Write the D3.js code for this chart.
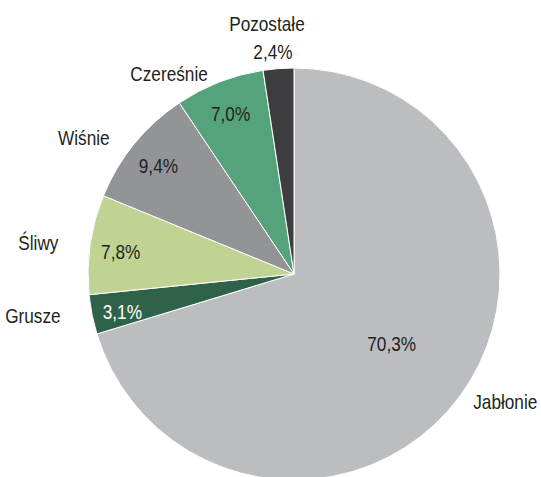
<!DOCTYPE html>
<html>
<head>
<meta charset="utf-8">
<script src="https://cdn.jsdelivr.net/npm/d3@7"></script>
<style>
  body { margin: 0; background: #fff; }
  text { font-family: "Liberation Sans", Arial, sans-serif; font-size: 21px; fill: #231f20; }
</style>
</head>
<body>
<svg id="chart" width="541" height="477"></svg>
<script>
// fruit tree shares, clockwise from 12 o'clock
const categories = ['Jabłonie', 'Grusze', 'Śliwy', 'Wiśnie', 'Czereśnie', 'Pozostałe'];
const shares = [70.3, 3.1, 7.8, 9.4, 7.0, 2.4];
const valueLabels = ['70,3%', '3,1%', '7,8%', '9,4%', '7,0%', '2,4%'];
const colors = ['#bcbdc1', '#2f6349', '#c0d393', '#929497', '#55a37a', '#3d3d3f'];

const svg = d3.select('#chart');
const cx = 294, cy = 274, radius = 206;
const narrow = 0.82; // no Arial Narrow here, so squeeze Liberation Sans

const data = categories.map((name, i) => ({ name, value: shares[i], label: valueLabels[i], color: colors[i] }));

const pie = d3.pie()
    .value(d => d.value)
    .sort(null);

const arcs = pie(data);

const arc = d3.arc().innerRadius(0).outerRadius(radius);

const g = svg.append('g')
    .attr('transform', `translate(${cx},${cy})`);

g.selectAll('path')
    .data(arcs)
    .join('path')
    .attr('d', arc)
    .attr('fill', d => d.data.color)
    .attr('stroke', '#fff')
    .attr('stroke-width', 1);

const midAngle = d => (d.startAngle + d.endAngle) / 2;

const isLast = (i) => i === arcs.length - 1;

const place = (x, y) => `translate(${x},${y}) scale(${narrow},1)`;

// big slice gets its label closer to the centre
const isBig = d => (d.endAngle - d.startAngle) > Math.PI;
const innerR = d => radius * (isBig(d) ? 0.59 : 0.85);

// percentage inside the slice (the thin last slice gets it outside)
g.selectAll('text.value')
    .data(arcs.filter((d, i) => !isLast(i)))
    .join('text')
    .classed('value', true)
    .attr('text-anchor', 'middle')
    .attr('dominant-baseline', 'central')
    .attr('transform', d => place(Math.sin(midAngle(d)) * innerR(d), -Math.cos(midAngle(d)) * innerR(d) + (isBig(d) ? -2 : 3)))
    .style('fill', d => d.data.name === 'Grusze' ? '#fff' : null)
    .text(d => d.data.label);

// category names outside, on a slightly flattened ring
const rx = radius + 32, ry = radius + 9;

g.selectAll('text.name')
    .data(arcs)
    .join('text')
    .classed('name', true)
    .attr('dominant-baseline', 'central')
    .attr('text-anchor', d => {
        const s = Math.sin(midAngle(d));
        return Math.abs(s) < 0.2 ? 'middle' : (s < 0 ? 'end' : 'start');
    })
    .each(function(d, i) {
        const t = d3.select(this);
        const a = midAngle(d);
        if (isLast(i)) {
            const x = Math.sin(a) * (radius + 34);
            const y = -Math.cos(a) * (radius + 34);
            t.attr('transform', place(x - 3, y));
            t.append('tspan').attr('x', -6 / narrow).attr('y', -11).text(d.data.name);
            t.append('tspan').attr('x', 0).attr('y', 17).text(d.data.label);
        } else {
            const x = Math.sin(a) * rx + (Math.sin(a) > 0 ? -12 : 0);
            const y = -Math.cos(a) * ry;
            t.attr('transform', place(x, y)).text(d.data.name);
        }
    });
</script>
</body>
</html>
